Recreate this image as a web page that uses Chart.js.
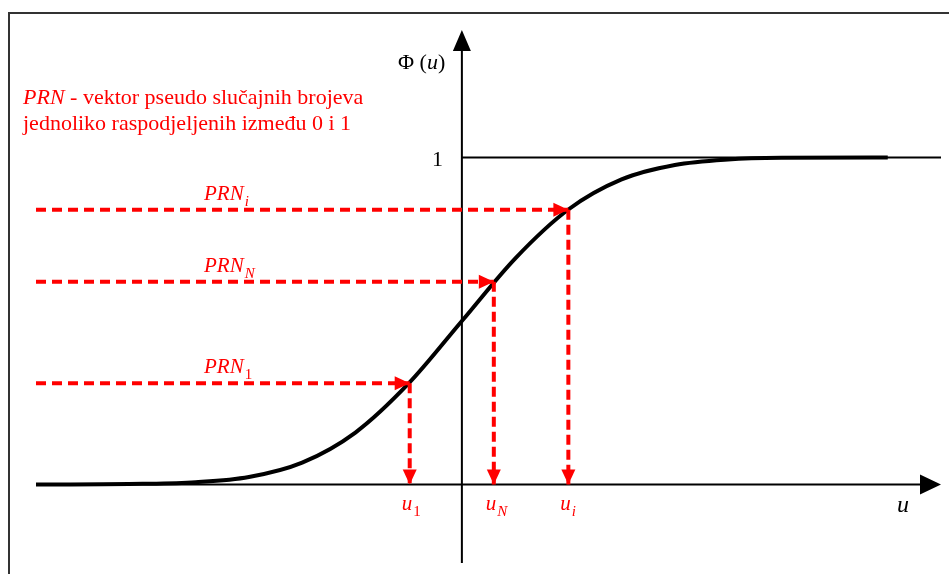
<!DOCTYPE html>
<html>
<head>
<meta charset="utf-8">
<script src="https://cdn.jsdelivr.net/npm/chart.js@4"></script>
<style>
  html, body { margin: 0; padding: 0; background: #fff; }
  #wrap { position: relative; width: 949px; height: 574px; }
</style>
</head>
<body>
<div id="wrap"><canvas id="cdf"></canvas></div>
<script>
// distribution curve (u, Phi(u))
const curveU   = [-4, -3, -2.5, -2, -1.5, -1, -0.5, 0, 0.5, 1, 1.5, 2, 2.5, 3, 4];
const curvePhi = [0, 0.002, 0.007, 0.023, 0.067, 0.159, 0.309, 0.5, 0.691, 0.841, 0.933, 0.977, 0.994, 0.999, 1];

// pseudo random numbers and the u values they map to
const prnSubs   = ['1', 'N', 'i'];
const prnValues = [0.31, 0.62, 0.84];
const uValues   = [-0.49, 0.30, 1.00];

// axis ranges
const uMin = -4, uMax = 4.5;
const phiMin = -0.24, phiMax = 1.39;

const RED = '#ff0000';
const SERIF = '"Liberation Serif", "Times New Roman", serif';

const datasets = [];
prnValues.forEach((p, i) => {
    // horizontal arrow PRN -> curve
    datasets.push({
        data: [{ x: uMin, y: p }, { x: uValues[i], y: p }],
        borderColor: RED, borderWidth: 4, borderDash: [10, 6],
        pointRadius: 0, showLine: true, arrow: true
    });
    // vertical arrow curve -> u axis
    datasets.push({
        data: [{ x: uValues[i], y: p }, { x: uValues[i], y: 0 }],
        borderColor: RED, borderWidth: 4, borderDash: [10, 5],
        pointRadius: 0, showLine: true, arrow: true
    });
});
datasets.push({
    data: curveU.map((u, i) => ({ x: u, y: curvePhi[i] })),
    borderColor: '#000', borderWidth: 4, pointRadius: 0,
    showLine: true, cubicInterpolationMode: 'monotone'
});
// level Phi = 1
datasets.push({
    data: [{ x: 0, y: 1 }, { x: uMax, y: 1 }],
    borderColor: '#000', borderWidth: 2, pointRadius: 0, showLine: true
});

function txt(ctx, s, x, y, size, italic, color) {
    ctx.font = (italic ? 'italic ' : '') + size + 'px ' + SERIF;
    ctx.fillStyle = color;
    ctx.fillText(s, x, y);
    return ctx.measureText(s).width;
}

// letter with a subscript, left edge at x
function withSub(ctx, main, sub, x, y, color, subItalic) {
    let w = txt(ctx, main, x, y, 21, true, color);
    w += txt(ctx, sub, x + w + 1, y + 6, 15, subItalic, color);
    return w;
}

const drawing = {
    id: 'drawing',
    beforeDraw(chart) {
        const ctx = chart.ctx;
        ctx.save();
        ctx.fillStyle = '#333';
        ctx.fillRect(8, 12, 2, 562);
        ctx.fillRect(8, 12, 941, 2);
        ctx.restore();
    },
    beforeDatasetsDraw(chart) {
        const { ctx, chartArea, scales: { x, y } } = chart;
        const x0 = x.getPixelForValue(0), y0 = y.getPixelForValue(0);
        const left = x.getPixelForValue(uMin);
        ctx.save();
        ctx.fillStyle = '#000';
        ctx.strokeStyle = '#000';
        ctx.lineWidth = 2;
        ctx.beginPath();
        ctx.moveTo(left, y0); ctx.lineTo(chartArea.right - 18, y0);
        ctx.moveTo(x0, chartArea.bottom); ctx.lineTo(x0, chartArea.top + 18);
        ctx.stroke();
        // arrow heads
        ctx.beginPath();
        ctx.moveTo(chartArea.right, y0);
        ctx.lineTo(chartArea.right - 21, y0 - 10);
        ctx.lineTo(chartArea.right - 21, y0 + 10);
        ctx.closePath();
        ctx.moveTo(x0, chartArea.top);
        ctx.lineTo(x0 - 9, chartArea.top + 21);
        ctx.lineTo(x0 + 9, chartArea.top + 21);
        ctx.closePath();
        ctx.fill();
        ctx.restore();
    },
    afterDatasetsDraw(chart) {
        const ctx = chart.ctx;
        ctx.save();
        ctx.fillStyle = RED;
        chart.data.datasets.forEach((ds, i) => {
            if (!ds.arrow) return;
            const pts = chart.getDatasetMeta(i).data;
            const a = pts[pts.length - 2], b = pts[pts.length - 1];
            const ang = Math.atan2(b.y - a.y, b.x - a.x);
            const len = 15, half = 7;
            ctx.beginPath();
            ctx.moveTo(b.x, b.y);
            ctx.lineTo(b.x - len * Math.cos(ang) + half * Math.sin(ang), b.y - len * Math.sin(ang) - half * Math.cos(ang));
            ctx.lineTo(b.x - len * Math.cos(ang) - half * Math.sin(ang), b.y - len * Math.sin(ang) + half * Math.cos(ang));
            ctx.closePath();
            ctx.fill();
        });
        ctx.restore();
    },
    afterDraw(chart) {
        const { ctx, scales: { x, y } } = chart;
        const x0 = x.getPixelForValue(0), y0 = y.getPixelForValue(0);
        ctx.save();
        ctx.textBaseline = 'alphabetic';
        ctx.textAlign = 'left';

        // legend text
        let w = txt(ctx, 'PRN', 23, 104, 22, true, RED);
        txt(ctx, ' - vektor pseudo slučajnih brojeva', 23 + w, 104, 22, false, RED);
        txt(ctx, 'jednoliko raspodjeljenih između 0 i 1', 23, 130, 22, false, RED);

        // axis labels
        let px = 398;
        px += txt(ctx, 'Φ', px, 69, 22, false, '#000');
        px += txt(ctx, ' (', px, 69, 22, false, '#000');
        px += txt(ctx, 'u', px, 69, 22, true, '#000');
        txt(ctx, ')', px, 69, 22, false, '#000');
        ctx.textAlign = 'right';
        txt(ctx, '1', x0 - 19, y.getPixelForValue(1) + 8, 22, false, '#000');
        ctx.textAlign = 'left';
        txt(ctx, 'u', 897, y0 + 27, 24, true, '#000');

        // PRN labels and u labels
        prnValues.forEach((p, i) => {
            withSub(ctx, 'PRN', prnSubs[i], 204, y.getPixelForValue(p) - 10, RED, prnSubs[i] !== '1');
            const ux = x.getPixelForValue(uValues[i]);
            withSub(ctx, 'u', prnSubs[i], ux - 8, y0 + 25, RED, prnSubs[i] !== '1');
        });
        ctx.restore();
    }
};

new Chart(document.getElementById('cdf'), {
    type: 'scatter',
    data: { datasets: datasets },
    options: {
        responsive: true,
        maintainAspectRatio: false,
        animation: false,
        events: [],
        layout: { padding: { left: 36, right: 8, top: 30, bottom: 11 } },
        scales: {
            x: { type: 'linear', min: uMin, max: uMax, display: false },
            y: { type: 'linear', min: phiMin, max: phiMax, display: false }
        },
        plugins: {
            legend: { display: false },
            tooltip: { enabled: false }
        }
    },
    plugins: [drawing]
});
</script>
</body>
</html>
